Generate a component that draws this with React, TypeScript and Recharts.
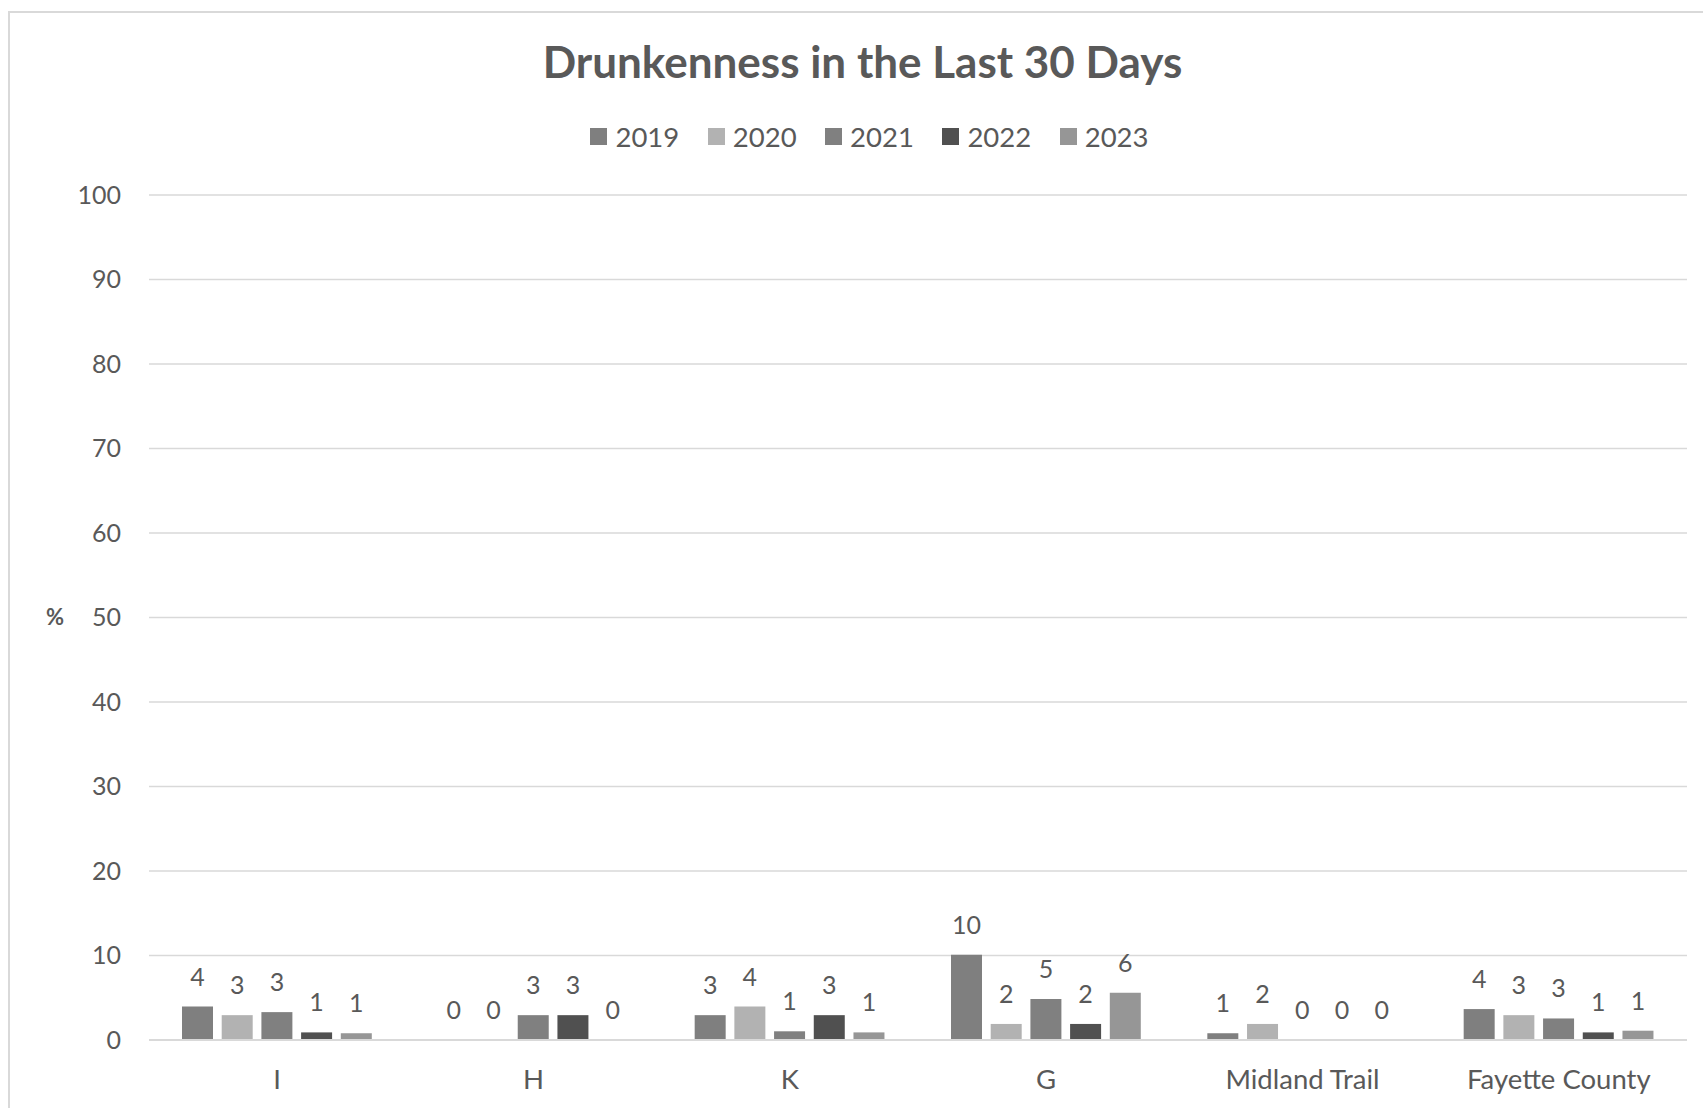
import { BarChart, Bar, XAxis, YAxis, CartesianGrid, Legend, LabelList } from 'recharts';

const categories = ['I', 'H', 'K', 'G', 'Midland Trail', 'Fayette County'];
const years = ['2019', '2020', '2021', '2022', '2023'];
const values2019 = [3.95, 0, 2.94, 10.1, 0.8, 3.66];
const values2020 = [2.94, 0, 3.95, 1.9, 1.9, 2.94];
const values2021 = [3.3, 2.94, 1.03, 4.86, 0, 2.55];
const values2022 = [0.9, 2.94, 2.94, 1.9, 0, 0.9];
const values2023 = [0.8, 0, 0.9, 5.6, 0, 1.1];
const yTicks = [0, 10, 20, 30, 40, 50, 60, 70, 80, 90, 100];
const colors = ['#7f7f7f', '#b2b2b2', '#808080', '#505050', '#969696'];

const seriesValues = [values2019, values2020, values2021, values2022, values2023];

const data = categories.map((name, i) => {
  const row: Record<string, string | number> = { name };
  years.forEach((y, s) => {
    row[y] = seriesValues[s][i];
  });
  return row;
});

const TEXT = '#595959';
const GRID = '#d9d9d9';

function LegendBox() {
  return (
    <div style={{ display: 'flex', justifyContent: 'center', gap: 28.5, height: 40, alignItems: 'center' }}>
      {years.map((y, i) => (
        <div key={y} style={{ display: 'flex', alignItems: 'center' }}>
          <span style={{ width: 17, height: 17, background: colors[i], display: 'inline-block', marginRight: 8 }} />
          <span style={{ color: TEXT, fontSize: 27.5 }}>{y}</span>
        </div>
      ))}
    </div>
  );
}

export default function App() {
  return (
    <div
      style={{
        position: 'absolute',
        left: 0,
        top: 0,
        width: 1703,
        height: 1108,
        background: '#fff',
        fontFamily: 'Lato, sans-serif',
        overflow: 'hidden',
      }}
    >
      <div
        style={{
          position: 'absolute',
          left: 8,
          top: 11,
          width: 1720,
          height: 1120,
          border: `2px solid ${GRID}`,
          boxSizing: 'border-box',
        }}
      />
      <div
        style={{
          position: 'absolute',
          left: 11,
          top: 35,
          width: 1703,
          textAlign: 'center',
          fontSize: 44,
          fontWeight: 700,
          color: TEXT,
          lineHeight: '52px',
        }}
      >
        Drunkenness in the Last 30 Days
      </div>
      <BarChart
        width={1703}
        height={1108}
        data={data}
        margin={{ top: 195, right: 16, bottom: 0, left: 0 }}
        barGap={8.7}
        barCategoryGap={33}
      >
        <CartesianGrid horizontal vertical={false} stroke={GRID} strokeWidth={1.5} />
        <XAxis
          dataKey="name"
          height={68}
          tickLine={false}
          tickSize={0}
          tickMargin={29}
          axisLine={{ stroke: GRID, strokeWidth: 2 }}
          tick={{ fill: TEXT, fontSize: 27.5 }}
        />
        <YAxis
          width={149}
          domain={[0, 100]}
          ticks={yTicks}
          interval={0}
          tickLine={false}
          tickSize={0}
          tickMargin={28}
          axisLine={false}
          tick={{ fill: TEXT, fontSize: 25 }}
          label={{ value: '%', position: 'insideLeft', offset: 46, fill: TEXT, fontSize: 22, fontWeight: 700 }}
        />
        <Legend
          layout="horizontal"
          verticalAlign="middle"
          align="center"
          wrapperStyle={{ top: 116, left: 18, width: 1703 }}
          content={() => <LegendBox />}
        />
        {years.map((y, i) => (
          <Bar key={y} dataKey={y} fill={colors[i]} minPointSize={0.01} isAnimationActive={false}>
            <LabelList
              dataKey={y}
              position="top"
              offset={21}
              fill={TEXT}
              fontSize={25}
              formatter={(v: number) => Math.round(v).toString()}
            />
          </Bar>
        ))}
      </BarChart>
    </div>
  );
}
